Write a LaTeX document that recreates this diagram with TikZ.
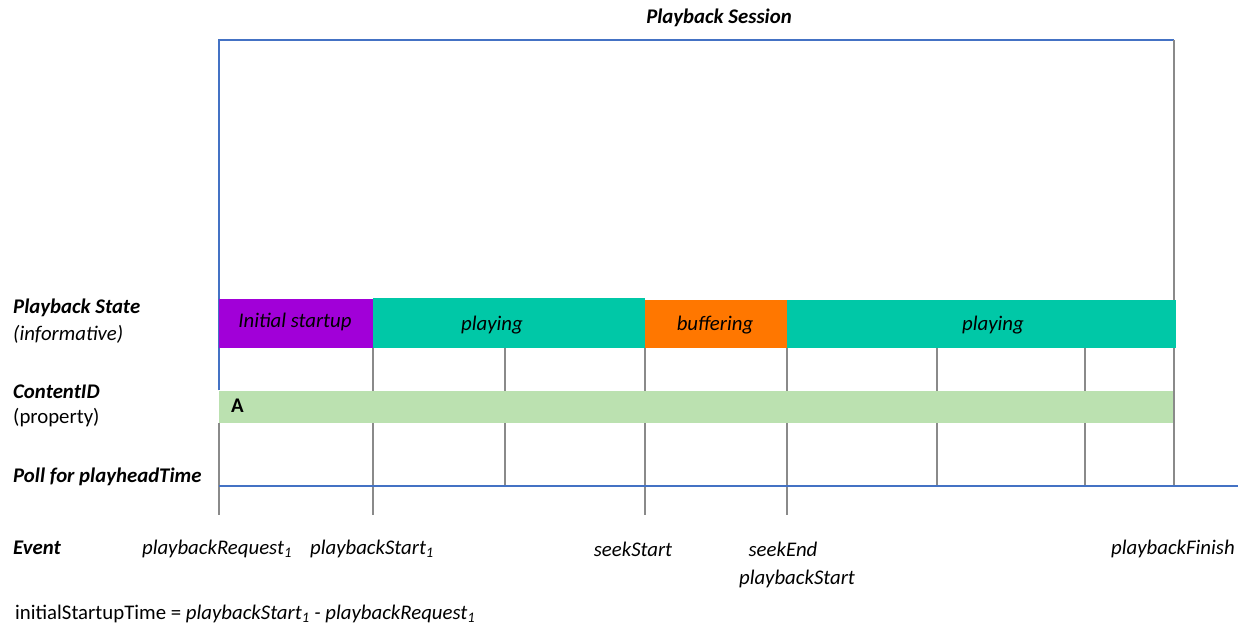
\documentclass[tikz,border=0pt]{standalone}
\usepackage{fontspec}
\setmainfont{Carlito}
\usetikzlibrary{positioning}
\definecolor{startpurple}{HTML}{A100D8}
\definecolor{playteal}{HTML}{00C8A7}
\definecolor{bufforange}{HTML}{FF7700}
\definecolor{idgreen}{HTML}{BBE1B0}
\definecolor{lineblue}{HTML}{4472C4}
\definecolor{tickgray}{HTML}{8A8A8A}

\begin{document}
\begin{tikzpicture}[x=1pt, y=-1pt,
    every node/.style={inner sep=0pt, font=\fontsize{20.8}{25}\selectfont},
    statebox/.style={rectangle, minimum height=49pt, anchor=north west},
    statetext/.style={font=\fontsize{20.8}{25}\selectfont\itshape},
    rowlabel/.style={anchor=west, font=\fontsize{20.8}{25}\selectfont\bfseries\itshape},
    eventlabel/.style={font=\fontsize{20.8}{25}\selectfont\itshape},
    tick/.style={draw=tickgray, line width=1.2pt},
    axis/.style={draw=lineblue, line width=1.2pt}]
    \useasboundingbox (0,0) rectangle (1245,626);

    % session frame
    \node [font=\fontsize{20.8}{25}\selectfont\bfseries\itshape] (session) at (719,18) {Playback Session};
    \coordinate (frametl) at (219,40);
    \coordinate (frametr) at (1174,40);
    \coordinate (framebl) at (219,390);
    \coordinate (framebr) at (1174,487);
    \draw [axis] (framebl) -- (frametl) -- (frametr);
    \draw [tick] (frametr) -- (framebr);

    % time ticks
    \draw [tick] (219,423) -- (219,515);
    \draw [tick] (373,348) -- (373,515);
    \draw [tick] (505,348) -- (505,487);
    \draw [tick] (645,348) -- (645,515);
    \draw [tick] (787,348) -- (787,515);
    \draw [tick] (937,348) -- (937,487);
    \draw [tick] (1085,348) -- (1085,487);

    % playback states
    \node [statebox, fill=startpurple, minimum width=154pt] (startup) at (219,299) {};
    \node [statebox, fill=playteal, minimum width=272pt, minimum height=50pt] (play1) at (373,298) {};
    \node [statebox, fill=bufforange, minimum width=142pt, minimum height=48pt] (buffer) at (645,300) {};
    \node [statebox, fill=playteal, minimum width=389pt, minimum height=48pt] (play2) at (787,300) {};
    \node [statetext] (startuptext) at (295,322) {Initial startup};
    \node [statetext] (play1text) at (492,325) {playing};
    \node [statetext] (buffertext) at (715,325) {buffering};
    \node [statetext] (play2text) at (993,325) {playing};

    % content id
    \node [rectangle, fill=idgreen, minimum width=954pt, minimum height=32pt, anchor=north west] (content) at (219,391) {};
    \node [anchor=west, font=\fontsize{20.8}{25}\selectfont\bfseries] (contentA) at (231,406) {A};

    % poll axis
    \coordinate (axisstart) at (219,486);
    \coordinate (axisend) at (1238,486);
    \draw [axis] (axisstart) -- (axisend);

    % row labels
    \node [rowlabel] (statelabel) at (13,308) {Playback State};
    \node [anchor=west, font=\fontsize{20.8}{25}\selectfont\itshape] (stateinfo) at (13,334) {(informative)};
    \node [rowlabel] (idlabel) at (13,392) {ContentID};
    \node [anchor=west] (idprop) at (13,418) {(property)};
    \node [rowlabel] (polllabel) at (13,477) {Poll for playheadTime};
    \node [rowlabel] (eventlabel) at (13,548) {Event};

    % events
    \node [eventlabel] (request) at (217,549) {playbackRequest\textsubscript{1}};
    \node [eventlabel] (start1) at (372,549) {playbackStart\textsubscript{1}};
    \node [eventlabel] (seekstart) at (633,549) {seekStart};
    \node [eventlabel] (seekend) at (783,549) {seekEnd};
    \node [eventlabel] (start2) at (797,579) {playbackStart};
    \node [eventlabel] (finish) at (1173,549) {playbackFinish};

    \node [anchor=west] (formula) at (15,614) {initialStartupTime = \textit{playbackStart\textsubscript{1} - playbackRequest\textsubscript{1}}};
\end{tikzpicture}
\end{document}
